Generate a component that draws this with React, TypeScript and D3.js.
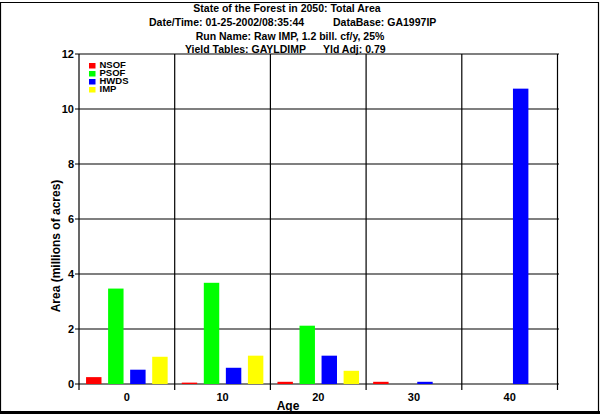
import React, { useEffect, useRef } from 'react';
import * as d3 from 'd3';

// ages (x categories) and series, values in millions of acres
const ages = ['0', '10', '20', '30', '40'];
const seriesNames = ['NSOF', 'PSOF', 'HWDS', 'IMP'];
const seriesColors = ['#ff0000', '#00ff00', '#0000ff', '#ffff00'];

const nsof = [0.25, 0.05, 0.08, 0.08, 0];
const psof = [3.47, 3.68, 2.12, 0, 0];
const hwds = [0.52, 0.59, 1.03, 0.08, 10.74];
const imp = [0.99, 1.03, 0.48, 0, 0];

const yTicks = [0, 2, 4, 6, 8, 10, 12];

const titleLines = [
  'State of the Forest in 2050: Total Area',
  'Run Name: Raw IMP, 1.2 bill. cf/y, 25%',
];

const W = 600;
const H = 415;
const FONT = '"Liberation Sans", Arial, sans-serif';

const App: React.FC = () => {
  const svgRef = useRef<SVGSVGElement>(null);

  useEffect(() => {
    document.body.style.margin = '0';
    document.body.style.overflow = 'hidden';
    if (!svgRef.current) return;

    const svg = d3.select(svgRef.current);
    svg.selectAll('*').remove();

    const plot = { left: 79, right: 557.5, top: 54, bottom: 384 };
    const values = [nsof, psof, hwds, imp];

    const x = d3.scaleBand<string>().domain(ages).range([plot.left, plot.right]).padding(0);
    const inner = d3
      .scaleBand<string>()
      .domain(seriesNames)
      .range([0, x.bandwidth()])
      .paddingInner(0.3)
      .paddingOuter(0.32);
    const y = d3.scaleLinear().domain([0, 12]).range([plot.bottom, plot.top]);

    svg.append('rect').attr('width', W).attr('height', H).attr('fill', '#fff');

    // outer frame, heavier at bottom/right
    svg.append('path')
      .attr('d', `M0.5,412 L0.5,2.5 L598.5,2.5 L598.5,412`)
      .attr('fill', 'none').attr('stroke', '#000').attr('stroke-width', 1.2);
    svg.append('line')
      .attr('x1', 0).attr('x2', 600).attr('y1', 412.5).attr('y2', 412.5)
      .attr('stroke', '#000').attr('stroke-width', 3);

    // titles
    const title = svg.append('g')
      .attr('font-family', FONT).attr('font-weight', 'bold').attr('font-size', '10.5px').attr('fill', '#000');
    title.append('text').attr('x', 287).attr('y', 11.5).attr('text-anchor', 'middle').text(titleLines[0]);
    title.append('text').attr('x', 149).attr('y', 25.5).text('Date/Time: 01-25-2002/08:35:44');
    title.append('text').attr('x', 333).attr('y', 25.5).text('DataBase: GA1997IP');
    title.append('text').attr('x', 290).attr('y', 39.5).attr('text-anchor', 'middle').text(titleLines[1]);
    title.append('text').attr('x', 185).attr('y', 53).text('Yield Tables: GAYLDIMP');
    title.append('text').attr('x', 323).attr('y', 53).text('Yld Adj: 0.79');

    // grid lines
    const grid = svg.append('g').attr('stroke', '#000').attr('stroke-width', 1.2);
    yTicks.forEach((t) => {
      grid.append('line')
        .attr('x1', plot.left - 4).attr('x2', plot.right + 1.5)
        .attr('y1', y(t)).attr('y2', y(t));
    });
    const bounds = ages.map((a) => x(a) as number).concat([plot.right]);
    bounds.forEach((bx) => {
      grid.append('line')
        .attr('x1', bx).attr('x2', bx)
        .attr('y1', plot.top).attr('y2', plot.bottom + 6);
    });

    // bars
    ages.forEach((a, i) => {
      seriesNames.forEach((s, j) => {
        const v = values[j][i];
        if (v <= 0) return;
        const top = y(v);
        svg.append('rect')
          .attr('x', (x(a) as number) + (inner(s) as number))
          .attr('y', top)
          .attr('width', inner.bandwidth())
          .attr('height', Math.max(1, plot.bottom - top))
          .attr('fill', seriesColors[j]);
      });
    });

    // y tick labels
    const labels = svg.append('g')
      .attr('font-family', FONT).attr('font-weight', 'bold').attr('font-size', '11px').attr('fill', '#000');
    yTicks.forEach((t) => {
      labels.append('text')
        .attr('x', plot.left - 5).attr('y', y(t) + 4)
        .attr('text-anchor', 'end').text(String(t));
    });
    ages.forEach((a) => {
      labels.append('text')
        .attr('x', (x(a) as number) + x.bandwidth() / 2).attr('y', 401)
        .attr('text-anchor', 'middle').text(a);
    });

    // axis titles
    const axisTitle = svg.append('g')
      .attr('font-family', FONT).attr('font-weight', 'bold').attr('font-size', '12px').attr('fill', '#000');
    axisTitle.append('text').attr('x', 288).attr('y', 410).attr('text-anchor', 'middle').text('Age');
    axisTitle.append('text')
      .attr('transform', `translate(60,246) rotate(-90)`)
      .attr('text-anchor', 'middle').text('Area (millions of acres)');

    // legend
    const legend = svg.append('g').attr('transform', 'translate(89,63)');
    seriesNames.forEach((s, i) => {
      const row = legend.append('g').attr('transform', `translate(0,${i * 8})`);
      row.append('rect').attr('width', 6.5).attr('height', 5.5).attr('fill', seriesColors[i]);
      row.append('text')
        .attr('x', 10.5).attr('y', 5)
        .attr('font-family', FONT).attr('font-weight', 'bold').attr('font-size', '9.5px')
        .attr('fill', '#000').text(s);
    });
  }, []);

  return <svg ref={svgRef} width={W} height={H} style={{ position: 'absolute', left: 0, top: 0 }} />;
};

export default App;
